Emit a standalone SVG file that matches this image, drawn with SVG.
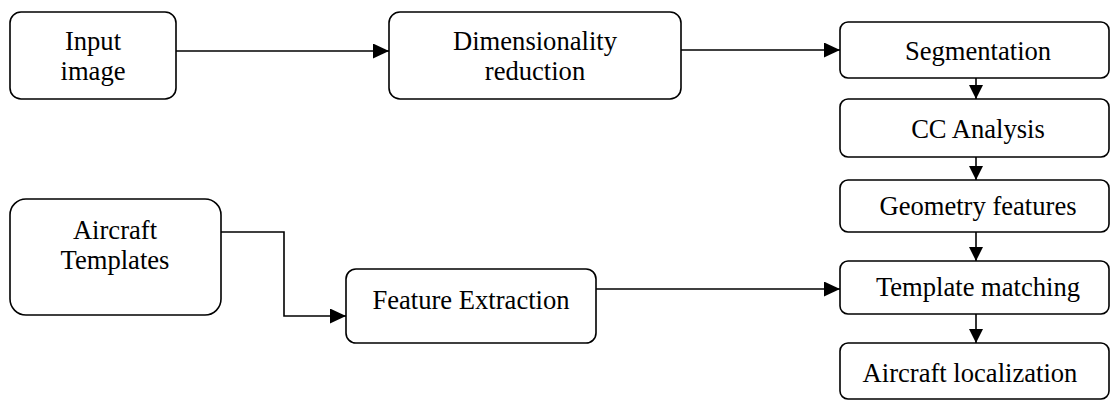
<svg xmlns="http://www.w3.org/2000/svg" width="1110" height="401" viewBox="0 0 1110 401">
<style>
.box{fill:#fff;stroke:#000;stroke-width:1.6}
.lbl{font-family:"Liberation Serif","Times New Roman",serif;font-size:26.6px;fill:#000;text-anchor:middle}
.con{fill:none;stroke:#000;stroke-width:1.6}
</style>
<defs>
<marker id="ah" markerUnits="userSpaceOnUse" markerWidth="16" markerHeight="16" refX="16" refY="7.5" orient="auto">
<path d="M0,0 L16,7.5 L0,15 Z" fill="#000"/>
</marker>
<marker id="ahs" markerUnits="userSpaceOnUse" markerWidth="14" markerHeight="14" refX="14" refY="7" orient="auto">
<path d="M0,0 L14,7 L0,14 Z" fill="#000"/>
</marker>
</defs>
<g id="connectors">
<path class="con" d="M176,51 H389" marker-end="url(#ah)"/>
<path class="con" d="M681,50 H840" marker-end="url(#ah)"/>
<path class="con" d="M976,78 V99" marker-end="url(#ahs)"/>
<path class="con" d="M976,157 V180" marker-end="url(#ahs)"/>
<path class="con" d="M976,232 V261" marker-end="url(#ahs)"/>
<path class="con" d="M976,314 V343" marker-end="url(#ahs)"/>
<path class="con" d="M221,232 H284 V316 H346" marker-end="url(#ah)"/>
<path class="con" d="M596,289 H840" marker-end="url(#ah)"/>
</g>
<g id="input-image">
<rect class="box" x="10" y="12" width="166" height="87" rx="11"/>
<text class="lbl" x="93" y="50">Input</text>
<text class="lbl" x="93" y="80">image</text>
</g>
<g id="dimensionality-reduction">
<rect class="box" x="389" y="12" width="292" height="87" rx="11"/>
<text class="lbl" x="535" y="50">Dimensionality</text>
<text class="lbl" x="535" y="80">reduction</text>
</g>
<g id="segmentation">
<rect class="box" x="840" y="22" width="269" height="56" rx="8"/>
<text class="lbl" x="978" y="60">Segmentation</text>
</g>
<g id="cc-analysis">
<rect class="box" x="840" y="99" width="269" height="58" rx="8"/>
<text class="lbl" x="978" y="138">CC Analysis</text>
</g>
<g id="geometry-features">
<rect class="box" x="840" y="180" width="269" height="52" rx="8"/>
<text class="lbl" x="978" y="215">Geometry features</text>
</g>
<g id="template-matching">
<rect class="box" x="840" y="261" width="269" height="53" rx="8"/>
<text class="lbl" x="978" y="296">Template matching</text>
</g>
<g id="aircraft-localization">
<rect class="box" x="840" y="343" width="269" height="56" rx="8"/>
<text class="lbl" x="970" y="382">Aircraft localization</text>
</g>
<g id="aircraft-templates">
<rect class="box" x="10" y="199" width="211" height="116" rx="16"/>
<text class="lbl" x="115" y="239">Aircraft</text>
<text class="lbl" x="115" y="269">Templates</text>
</g>
<g id="feature-extraction">
<rect class="box" x="346" y="269" width="250" height="74" rx="10"/>
<text class="lbl" x="471" y="309">Feature Extraction</text>
</g>
</svg>
